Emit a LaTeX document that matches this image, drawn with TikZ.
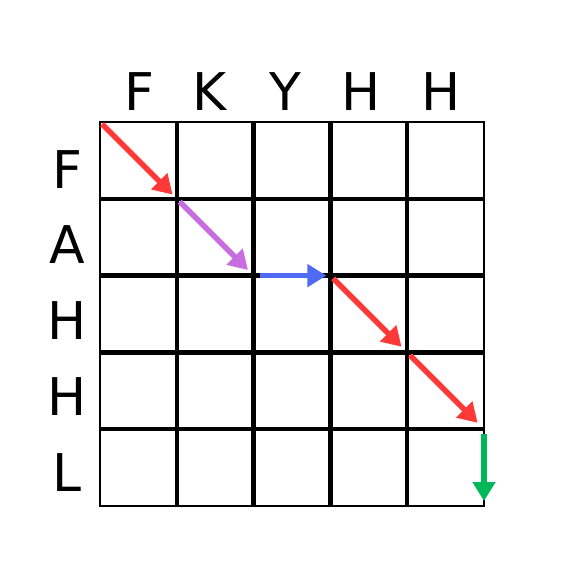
\documentclass[tikz,border=0pt]{standalone}
\usepackage{fontspec}
\setmainfont{DejaVu Sans}
\usepackage{xcolor}
\usetikzlibrary{arrows.meta}
\definecolor{pathred}{HTML}{FF3838}
\definecolor{pathpurple}{HTML}{C86DE0}
\definecolor{pathblue}{HTML}{4F6BF5}
\definecolor{pathgreen}{HTML}{00B85A}
\tikzset{
  lbl/.style={font=\fontsize{52}{56}\selectfont},
  move/.style={line width=5.5pt, -{Triangle[length=19pt,width=22pt]}}
}

\begin{document}
\begin{tikzpicture}[x=1pt,y=-1pt]
\useasboundingbox (0,0) rectangle (585,587);
\fill[white] (0,0) rectangle (585,587);
% grid corners
\foreach \i in {0,...,5} {
  \foreach \j in {0,...,5} {
    \coordinate (p-\i-\j) at (100+76.8*\j,122+76.8*\i);
  }
}
\foreach \k in {1,...,4} {
  \draw[line width=4.3pt] (p-0-\k) -- (p-5-\k);
  \draw[line width=4.3pt] (p-\k-0) -- (p-\k-5);
}
\draw[line width=2pt] (p-0-0) rectangle (p-5-5);
% labels
\foreach \x/\l in {139/F, 210/K, 285/Y, 361/H, 441/H} {
  \node[lbl] (col-\l-\x) at (\x,92) {\l};
}
\foreach \y/\l in {170/F, 245/A, 321/H, 397/H, 473/L} {
  \node[lbl] (row-\l-\y) at (67,\y) {\l};
}
% path
\draw[move, pathred, shorten <=3pt, shorten >=6pt] (p-0-0) -- (p-1-1);
\draw[move, pathpurple, shorten <=4pt, shorten >=8pt] (p-1-1) -- (p-2-2);
\draw[move, pathblue, shorten <=6pt, shorten >=4pt] (p-2-2) -- (p-2-3);
\draw[move, pathred, shorten <=4pt, shorten >=8pt] (p-2-3) -- (p-3-4);
\draw[move, pathred, shorten <=4pt, shorten >=9pt] (p-3-4) -- (p-4-5);
\draw[move, pathgreen, shorten <=5pt, shorten >=5pt] (p-4-5) -- (p-5-5);
\end{tikzpicture}
\end{document}
